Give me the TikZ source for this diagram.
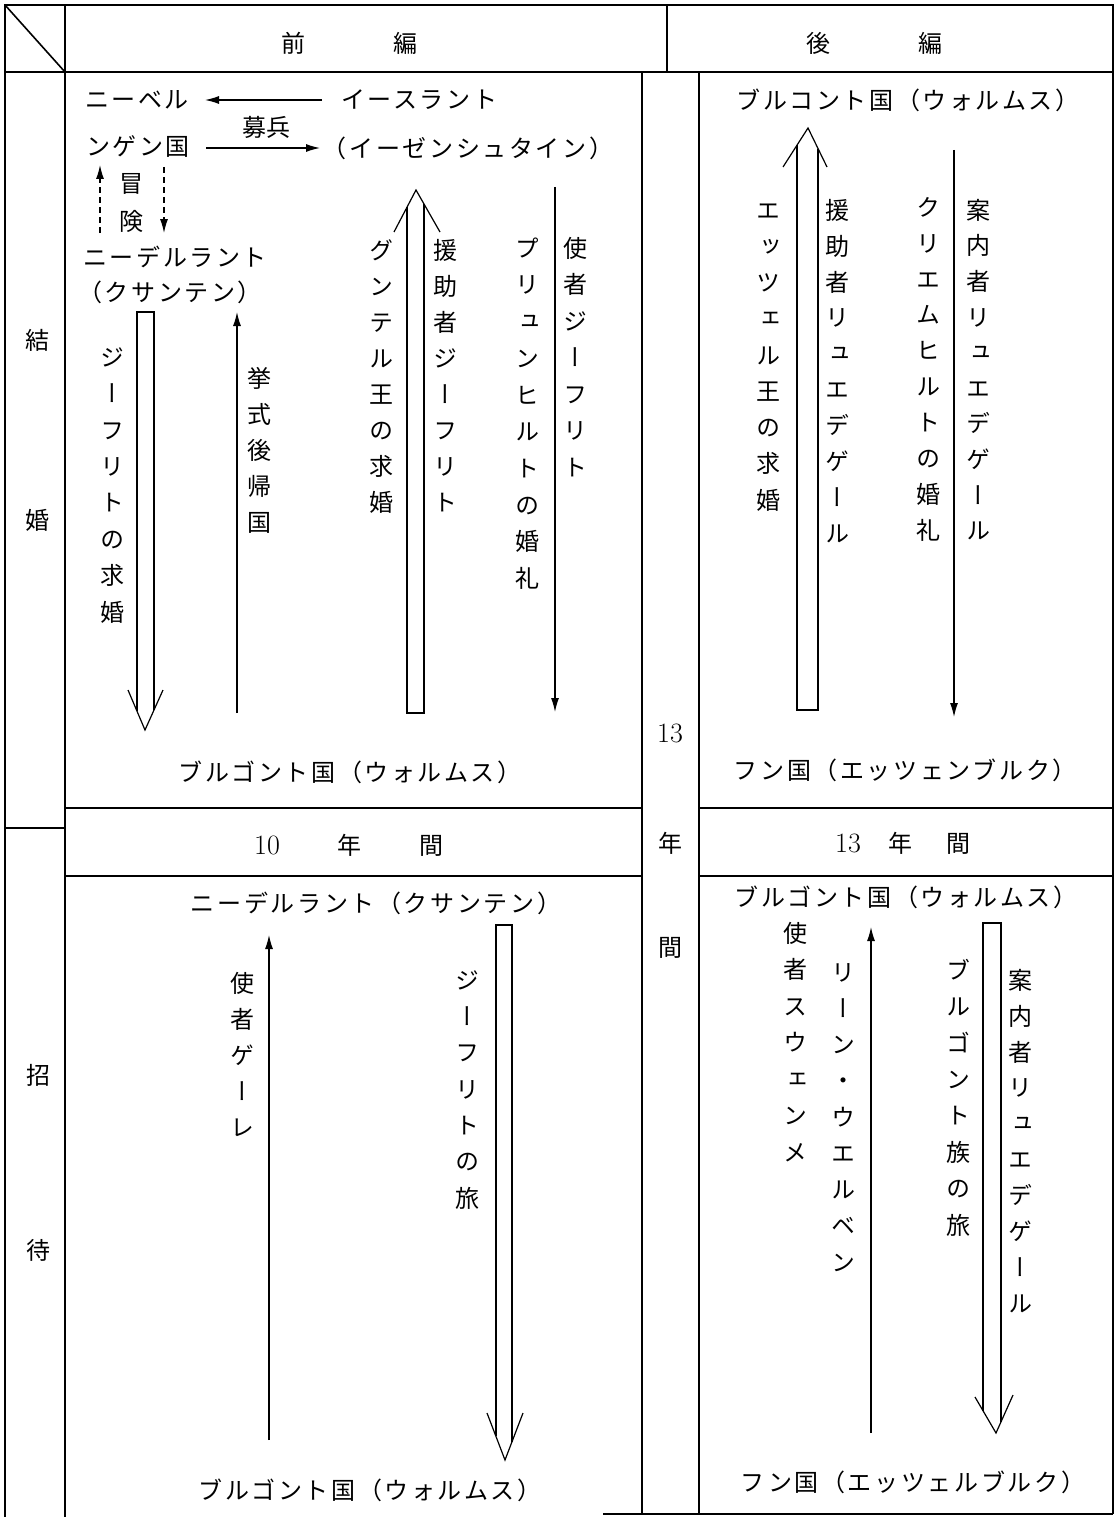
\documentclass[tikz,border=0pt]{standalone}
\usepackage{fontspec}
\newfontfamily\jp[LetterSpace=11]{Noto Sans CJK JP}
\newfontfamily\jpn{Noto Sans CJK JP}
\newfontfamily\vjp[RawFeature=+vert]{Noto Sans CJK JP}
\usetikzlibrary{arrows.meta}
\makeatletter
\newcommand\vcol[2]{\vbox{\baselineskip=#1pt\lineskiplimit=-1000pt\lineskip=0pt\vc@loop#2\@nil}}
\def\vc@loop#1{\ifx\@nil#1\else\hbox to 24pt{\hss\vrule height 21pt depth 3pt width 0pt#1\hss}\expandafter\vc@loop\fi}
\makeatother
\newcommand\vnode[5]{\node[vt] (#1) at (#2,#3) {\vcol{#4}{#5}};}
\begin{document}
\begin{tikzpicture}[x=1pt,y=-1pt,
  ht/.style={inner sep=0pt, font=\jp\fontsize{24}{24}\selectfont},
  hd/.style={inner sep=0pt, font=\jpn\fontsize{24}{24}\selectfont},
  num/.style={inner sep=0pt, font=\fontsize{28}{28}\selectfont},
  vt/.style={inner sep=0pt, anchor=north, yshift=12pt, font=\vjp\fontsize{24}{24}\selectfont},
  grid/.style={line width=1.6pt},
  arr/.style={line width=1.2pt, -{Latex[length=14pt,width=8pt]}},
  darr/.style={arr, dash pattern=on 6pt off 4pt},
  hollow/.style={line width=1.2pt, line join=miter}]
\useasboundingbox (0,0) rectangle (1116,1517);
\fill[white] (0,0) rectangle (1116,1517);
% frame
\draw[grid] (5,1517) -- (5,5) -- (1113,5) -- (1113,1514);
\draw[grid] (603,1514) -- (1113,1514);
\draw[grid] (65,5) -- (65,1517);
\draw[grid] (5,5) -- (65,72);
\draw[grid] (5,72) -- (1113,72);
\draw[grid] (667,5) -- (667,72);
\draw[grid] (642,72) -- (642,1514);
\draw[grid] (699,72) -- (699,1514);
\draw[grid] (65,808) -- (642,808);
\draw[grid] (65,876) -- (642,876);
\draw[grid] (699,808) -- (1113,808);
\draw[grid] (699,876) -- (1113,876);
\draw[grid] (5,828) -- (65,828);
% headers
\node[hd] (zen) at (349,43) {前\hspace{88pt}編};
\node[hd] (kou) at (874,43) {後\hspace{88pt}編};
\node[hd] (ke) at (37,340) {結};
\node[hd] (kon) at (37,520) {婚};
\node[hd] (sho) at (38,1075) {招};
\node[hd] (tai) at (38,1250) {待};
\node[hd] (band1) at (349,845) {{\fontsize{28}{28}\selectfont\rmfamily 10}\hspace{58pt}年\hspace{58pt}間};
\node[hd] (band2) at (903,843) {{\fontsize{28}{28}\selectfont\rmfamily 13}\hspace{28pt}年\hspace{34pt}間};
\node[num] (m13) at (670,733) {13};
\node[hd] (mnen) at (670,843) {年};
\node[hd] (mkan) at (670,948) {間};
% upper left
\node[ht] (nibe) at (137,100) {ニーベル};
\node[ht] (isu) at (419,100) {イースラント};
\node[ht] (ngen) at (138,147) {ンゲン国};
\node[hd] (bohei) at (266,127) {募兵};
\node[ht] (isen) at (468,148) {（イーゼンシュタイン）};
\node[hd] (bou) at (131,184) {冒};
\node[hd] (ken) at (131,221) {険};
\node[ht] (nied) at (175,257) {ニーデルラント};
\node[ht] (xan) at (170,292) {（クサンテン）};
\node[ht] (burg1) at (350,772) {ブルゴント国（ウォルムス）};
\coordinate (a1s) at (322,100); \coordinate (a1e) at (205,100);
\coordinate (a2s) at (206,148); \coordinate (a2e) at (320,148);
\draw[arr] (a1s) -- (a1e);
\draw[arr] (a2s) -- (a2e);
\coordinate (d1s) at (100,233); \coordinate (d1e) at (100,165);
\coordinate (d2s) at (164,167); \coordinate (d2e) at (164,233);
\draw[darr] (d1s) -- (d1e);
\draw[darr] (d2s) -- (d2e);
\vnode{v1}{112}{357}{36.4}{ジーフリトの求婚}
\vnode{v2}{259}{378}{36}{挙式後帰国}
\vnode{v3}{381}{250}{36}{グンテル王の求婚}
\vnode{v4}{445}{250}{36}{援助者ジーフリト}
\vnode{v5}{527}{248}{36.7}{プリュンヒルトの婚礼}
\vnode{v6}{575}{248}{36.5}{使者ジーフリト}
\draw[hollow] (137,711) -- (137,312) -- (154,312) -- (154,710);
\draw[hollow] (128,690) -- (145,730) -- (163,690);
\coordinate (a3s) at (237,713); \coordinate (a3e) at (237,312);
\draw[arr] (a3s) -- (a3e);
\draw[hollow] (407,207) -- (407,713) -- (424,713) -- (424,204);
\draw[hollow] (394,232) -- (416,190) -- (440,232);
\coordinate (a4s) at (555,187); \coordinate (a4e) at (555,712);
\draw[arr] (a4s) -- (a4e);
% upper right
\node[ht] (burg2) at (908,100) {ブルコント国（ウォルムス）};
\node[ht] (hun1) at (905,770) {フン国（エッツェンブルク）};
\vnode{v7}{768}{210}{36.25}{エッツェル王の求婚}
\vnode{v8}{837}{210}{35.9}{援助者リュエデゲール}
\vnode{v9}{928}{207}{35.9}{クリエムヒルトの婚礼}
\vnode{v10}{978}{210}{35.6}{案内者リュエデゲール}
\draw[hollow] (797,145) -- (797,710) -- (818,710) -- (818,149);
\draw[hollow] (783,167) -- (808,128) -- (827,167);
\coordinate (a5s) at (954,150); \coordinate (a5e) at (954,717);
\draw[arr] (a5s) -- (a5e);
% lower left
\node[ht] (nied2) at (376,903) {ニーデルラント（クサンテン）};
\node[ht] (burg3) at (370,1490) {ブルゴント国（ウォルムス）};
\vnode{v11}{242}{983}{36}{使者ゲーレ}
\vnode{v12}{467}{980}{36.3}{ジーフリトの旅}
\coordinate (a6s) at (269,1440); \coordinate (a6e) at (269,935);
\draw[arr] (a6s) -- (a6e);
\draw[hollow] (496,1436) -- (496,925) -- (512,925) -- (512,1442);
\draw[hollow] (487,1413) -- (505,1460) -- (523,1413);
% lower right
\node[ht] (burg4) at (906,897) {ブルゴント国（ウォルムス）};
\node[ht] (hun2) at (913,1482) {フン国（エッツェルブルク）};
\vnode{v13}{795}{933}{36.5}{使者スウェンメ}
\vnode{v14}{843}{972}{36.25}{リーン・ウエルベン}
\vnode{v15}{958}{970}{36.4}{ブルゴント族の旅}
\vnode{v16}{1020}{980}{35.9}{案内者リュエデゲール}
\coordinate (a7s) at (871,1433); \coordinate (a7e) at (871,927);
\draw[arr] (a7s) -- (a7e);
\draw[hollow] (983,1411) -- (983,923) -- (1001,923) -- (1001,1422);
\draw[hollow] (975,1397) -- (996,1433) -- (1013,1395);
\end{tikzpicture}
\end{document}
